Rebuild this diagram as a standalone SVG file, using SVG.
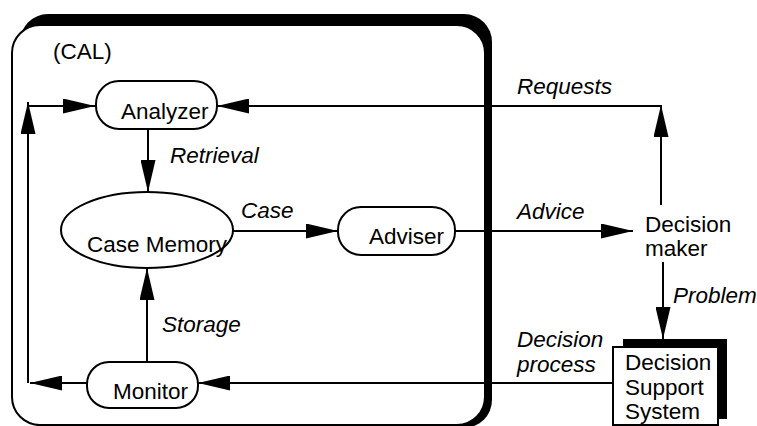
<svg xmlns="http://www.w3.org/2000/svg" width="757" height="426" viewBox="0 0 757 426">
  <defs>
    <marker id="arrow" markerUnits="userSpaceOnUse" markerWidth="32" markerHeight="15" viewBox="0 0 32 15" refX="32" refY="7.5" orient="auto">
      <path d="M0,0 L32,7.5 L0,15 Z" fill="#000"/>
    </marker>
  </defs>
  <style>
    .node { fill: #fff; stroke: #000; stroke-width: 2; }
    .shadow { fill: #000; stroke: none; }
    .conn { fill: none; stroke: #000; stroke-width: 2; marker-end: url(#arrow); }
    text { font-family: "Liberation Sans", Arial, Helvetica, sans-serif; font-size: 22.5px; fill: #000; }
    .lbl { font-style: italic; }
  </style>

  <rect x="0" y="0" width="757" height="426" fill="#fff"/>

  <!-- CAL system boundary with drop shadow -->
  <g id="cal">
    <rect class="shadow" x="20" y="14" width="472" height="414" rx="28"/>
    <rect class="node" x="12" y="25" width="473" height="400" rx="28"/>
    <text x="53" y="59">(CAL)</text>
  </g>

  <!-- connectors -->
  <g id="connectors">
    <path class="conn" d="M87,383 H30"/>
    <path class="conn" d="M28,383 V102"/>
    <path class="conn" d="M28,106 H95"/>
    <path class="conn" d="M148,129 V192"/>
    <path class="conn" d="M233,231 H338"/>
    <path class="conn" d="M455,231 H633"/>
    <path class="conn" d="M661,205 V105"/>
    <path class="conn" d="M661,106 H217"/>
    <path class="conn" d="M663,262 V339"/>
    <path class="conn" d="M613,383 H198"/>
    <path class="conn" d="M147,362 V268"/>
  </g>

  <!-- connector labels -->
  <g id="labels">
    <text class="lbl" x="517" y="94">Requests</text>
    <text class="lbl" x="170" y="163">Retrieval</text>
    <text class="lbl" x="241" y="218">Case</text>
    <text class="lbl" x="517" y="219">Advice</text>
    <text class="lbl" x="673" y="303">Problem</text>
    <text class="lbl" x="162" y="332">Storage</text>
    <text class="lbl" x="517" y="347">Decision</text>
    <text class="lbl" x="517" y="372">process</text>
  </g>

  <g id="analyzer">
    <rect class="node" x="96" y="81" width="121" height="48" rx="23"/>
    <text x="121" y="119">Analyzer</text>
  </g>

  <g id="case-memory">
    <ellipse class="node" cx="147" cy="230" rx="86" ry="38"/>
    <text x="87" y="252">Case Memory</text>
  </g>

  <g id="adviser">
    <rect class="node" x="338" y="207" width="117" height="48" rx="23"/>
    <text x="369" y="244">Adviser</text>
  </g>

  <g id="monitor">
    <rect class="node" x="87" y="362" width="111" height="46" rx="22"/>
    <text x="113" y="399">Monitor</text>
  </g>

  <g id="decision-maker">
    <text x="645" y="232">Decision</text>
    <text x="645" y="256">maker</text>
  </g>

  <g id="dss">
    <rect class="shadow" x="623" y="339" width="104" height="80"/>
    <rect class="node" x="613" y="347" width="105" height="78"/>
    <text x="625" y="370">Decision</text>
    <text x="625" y="395">Support</text>
    <text x="625" y="419">System</text>
  </g>
</svg>
